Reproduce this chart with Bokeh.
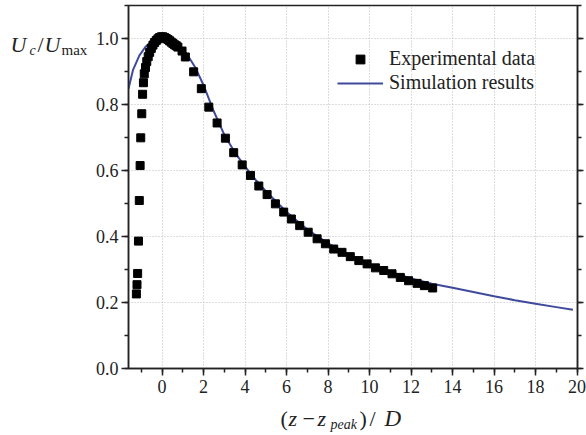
from bokeh.plotting import figure
from bokeh.layouts import column, row
from bokeh.models import (LinearAxis, SingleIntervalTicker, Range1d, Legend, LegendItem,
                          Label, NumeralTickFormatter, CustomJSTickFormatter)
from bokeh.embed import file_html
from bokeh.resources import INLINE

# ---------------- data ----------------
exp_x = [-1.24, -1.21, -1.18, -1.14, -1.10, -1.06, -1.03, -0.98, -0.94, -0.90,
         -0.86, -0.80, -0.74, -0.67, -0.60, -0.52, -0.44, -0.36, -0.28, -0.20, -0.12,
         -0.04, 0.04, 0.12, 0.20, 0.28, 0.36, 0.44, 0.52, 0.60, 0.68, 0.76,
         0.96, 1.12,
         1.52, 1.89, 2.25, 2.65, 3.05, 3.45, 3.86, 4.26, 4.66, 5.06, 5.46, 5.86, 6.23,
         6.63, 7.04, 7.47, 7.87, 8.27, 8.67, 9.07, 9.48, 9.88, 10.28, 10.68, 11.08,
         11.48, 11.88, 12.29, 12.64, 13.04]
exp_y = [0.226, 0.254, 0.288, 0.386, 0.509, 0.615, 0.699, 0.772, 0.831, 0.866,
         0.893, 0.912, 0.930, 0.945, 0.958, 0.970, 0.980, 0.988, 0.994, 0.999, 1.003,
         1.005, 1.005, 1.003, 1.000, 0.997, 0.993, 0.989, 0.985, 0.981, 0.978, 0.974,
         0.962, 0.944,
         0.899, 0.848, 0.792, 0.744, 0.698, 0.654, 0.617, 0.585, 0.553, 0.527, 0.499,
         0.474, 0.453, 0.433, 0.413, 0.393, 0.378, 0.362, 0.352, 0.339, 0.327, 0.317,
         0.305, 0.297, 0.287, 0.276, 0.266, 0.258, 0.251, 0.244]

sim_x = [-1.62, -1.4, -1.1, -0.8, -0.5, -0.2, 0.1, 0.4, 0.8, 1.2, 1.6, 2.0, 2.5,
         3.0, 3.5, 4.0, 4.5, 5.0, 6.0, 7.0, 8.0, 9.0, 10.0, 11.0, 12.0, 13.0, 14.0,
         15.0, 16.0, 17.0, 18.0, 19.0, 19.8]
sim_y = [0.848, 0.905, 0.948, 0.975, 0.992, 1.002, 1.005, 1.0, 0.982, 0.952, 0.912,
         0.858, 0.778, 0.708, 0.655, 0.612, 0.572, 0.537, 0.474, 0.421, 0.379, 0.345,
         0.316, 0.293, 0.273, 0.257, 0.245, 0.232, 0.219, 0.207, 0.196, 0.186, 0.178]

legend_labels = ["Experimental data", "Simulation results"]

# ---------------- style ----------------
FONT = "Liberation Serif"
INK = "#222222"
W_LEFT = 92      # width of the strip holding the y title
H_TOP = 400      # height of the top row
W_ALL = 586
H_ALL = 435

# ---------------- main figure ----------------
p = figure(width=W_ALL - W_LEFT, height=H_TOP, output_backend="svg",
           toolbar_location=None,
           x_range=Range1d(-1.62, 20.02), y_range=Range1d(0, 1.1),
           min_border_left=128 - W_LEFT, min_border_right=9, min_border_top=5,
           min_border_bottom=H_TOP - 368)
p.background_fill_color = "white"
p.border_fill_color = "white"
p.outline_line_color = INK
p.outline_line_width = 1.5
p.outline_line_alpha = 1.0

p.xaxis.ticker = SingleIntervalTicker(interval=2, num_minor_ticks=2)
p.yaxis.ticker = SingleIntervalTicker(interval=0.2, num_minor_ticks=2)
p.yaxis.formatter = NumeralTickFormatter(format="0.0")

right = LinearAxis(ticker=SingleIntervalTicker(interval=0.2, num_minor_ticks=2),
                   formatter=CustomJSTickFormatter(code="return ''"))
p.add_layout(right, "right")

for ax in list(p.xaxis) + list(p.yaxis):
    ax.axis_line_color = INK
    ax.axis_line_width = 1.5
    ax.major_tick_line_color = INK
    ax.minor_tick_line_color = INK
    ax.major_tick_line_width = 1.5
    ax.minor_tick_line_width = 1.5
    ax.major_tick_in = 0
    ax.major_tick_out = 7
    ax.minor_tick_in = 0
    ax.minor_tick_out = 4
    ax.major_label_text_font = FONT
    ax.major_label_text_font_size = "18px"
    ax.major_label_text_color = INK
p.xaxis.major_label_standoff = 4
p.yaxis[0].major_label_standoff = 3
right.major_label_standoff = 0
right.major_tick_out = 6
right.minor_tick_out = 4

for g in (p.xgrid, p.ygrid):
    g.grid_line_color = "#bdbdbd"
    g.grid_line_dash = "1 2"
    g.grid_line_width = 1

ln = p.line(sim_x, sim_y, line_color="#3f4a9c", line_width=2)
sc = p.scatter(exp_x, exp_y, marker="square", size=8, fill_color="black",
               line_color="black")

legend = Legend(items=[LegendItem(label=legend_labels[0], renderers=[sc]),
                       LegendItem(label=legend_labels[1], renderers=[ln])],
                location=(209, 274), label_text_font=FONT,
                label_text_font_size="20px", label_text_color=INK,
                glyph_width=46, glyph_height=22, label_height=22, spacing=1,
                padding=0, margin=0, label_standoff=6,
                border_line_alpha=0, background_fill_alpha=0)
p.add_layout(legend)


# ---------------- title strips (pixel-unit helper figures) ----------------
def strip(w, h):
    f = figure(width=w, height=h, output_backend="svg", toolbar_location=None,
               x_range=Range1d(0, w), y_range=Range1d(0, h),
               x_axis_type=None, y_axis_type=None,
               min_border_left=0, min_border_right=0, min_border_top=0,
               min_border_bottom=0)
    f.outline_line_color = None
    f.background_fill_color = "white"
    f.border_fill_color = "white"
    f.grid.visible = False
    return f


def lab(f, text, px, py_top, size, italic=False):
    # px, py_top: pixel position measured from the strip's top-left corner
    f.add_layout(Label(x=px, y=f.height - py_top, text=text, text_font=FONT,
                       text_font_size=size, text_color=INK,
                       text_font_style="italic" if italic else "normal",
                       text_align="left", text_baseline="alphabetic"))


ytitle = strip(W_LEFT, H_TOP)
lab(ytitle, "U", 10, 43, "22px", True)
lab(ytitle, "c", 29, 50, "14px", True)
lab(ytitle, "/", 37, 43, "22px")
lab(ytitle, "U", 44, 43, "22px", True)
lab(ytitle, "max", 61, 49, "15px")

xtitle = strip(W_ALL, H_ALL - H_TOP)
BL = 418 - H_TOP
lab(xtitle, "(", 280, BL, "22px")
lab(xtitle, "z", 288, BL, "22px", True)
lab(xtitle, "\u2212", 302, BL, "22px")
lab(xtitle, "z", 317, BL, "22px", True)
lab(xtitle, "peak", 330, BL + 6, "14px", True)
lab(xtitle, ")", 359, BL, "22px")
lab(xtitle, "/", 369, BL, "22px")
lab(xtitle, "D", 384, BL, "23px", True)

layout = column(row(ytitle, p), xtitle)
open("out.html", "w").write(file_html(layout, INLINE))
